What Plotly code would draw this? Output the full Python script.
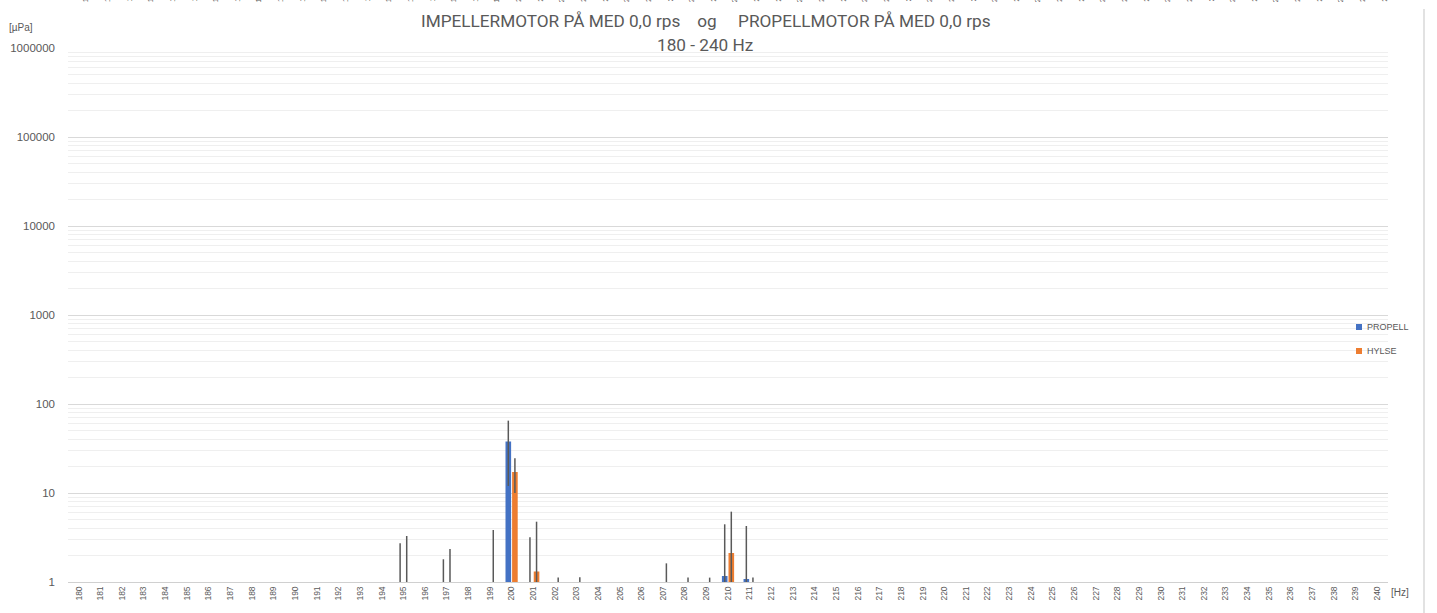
import plotly.graph_objects as go

# ---------------- data ----------------
freqs = list(range(180, 241))
categories = [str(f) for f in freqs]

# PROPELL (blue): frequency, bar value, top / bottom of error bar  [µPa]
propell_hz = [195, 197, 200, 201, 210, 211]
propell_val = [1.0, 1.0, 38.0, 1.0, 1.17, 1.08]
propell_top = [2.72, 1.80, 65.0, 3.18, 4.45, 4.26]
propell_bottom = [0.5, 0.5, 12.0, 0.5, 0.5, 0.5]

# HYLSE (orange)
hylse_hz = [195, 197, 199, 200, 201, 202, 203, 207, 208, 209, 210, 211]
hylse_val = [1.0, 1.0, 1.0, 17.2, 1.31, 1.0, 1.0, 1.0, 1.0, 1.0, 2.12, 1.0]
hylse_top = [3.29, 2.35, 3.84, 24.6, 4.76, 1.12, 1.13, 1.62, 1.12, 1.12, 6.17, 1.12]
hylse_bottom = [0.5, 0.5, 0.5, 10.0, 0.5, 0.5, 0.5, 0.5, 0.5, 0.5, 0.5, 0.5]

y_tickvals = [1, 10, 100, 1000, 10000, 100000, 1000000]
y_ticktext = ["1", "10", "100", "1000", "10000", "100000", "1000000"]

title_line1 = "IMPELLERMOTOR PÅ MED 0,0 rps\u00a0\u00a0\u00a0\u00a0og\u00a0\u00a0\u00a0\u00a0\u00a0PROPELLMOTOR PÅ MED 0,0 rps"
title_line2 = "180 - 240 Hz"

BLUE = "#4472C4"
ORANGE = "#ED7D31"
GREY = "#595959"

# ---------------- layout geometry ----------------
W, H = 1437, 613
L, R, T, B = 68, 49, 48, 31
PW, PH = W - L - R, H - T - B


def px2x(px):
    return (px - L) / PW


def px2y(py):
    return (H - B - py) / PH


fig = go.Figure()


def add_series(name, hz, val, top, bottom, color):
    plus = [t - v for t, v in zip(top, val)]
    minus = [v - b for v, b in zip(val, bottom)]
    fig.add_trace(go.Bar(
        name=name,
        x=[str(h) for h in hz],
        y=val,
        marker=dict(color=color, line=dict(width=0)),
        error_y=dict(type="data", symmetric=False, array=plus, arrayminus=minus,
                     color=GREY, thickness=1.5, width=0),
        showlegend=False,
    ))


add_series("PROPELL", propell_hz, propell_val, propell_top, propell_bottom, BLUE)
add_series("HYLSE", hylse_hz, hylse_val, hylse_top, hylse_bottom, ORANGE)

font_main = "Roboto, Liberation Sans, sans-serif"
font_ticks = "Liberation Sans, Arial, sans-serif"

annotations = [
    dict(text=title_line1, x=px2x(706), y=px2y(21), xref="paper", yref="paper",
         xanchor="center", yanchor="middle", showarrow=False,
         font=dict(family=font_main, size=17.2, color=GREY)),
    dict(text=title_line2, x=px2x(705), y=px2y(45), xref="paper", yref="paper",
         xanchor="center", yanchor="middle", showarrow=False,
         font=dict(family=font_main, size=17.2, color=GREY)),
    dict(text="[µPa]", x=px2x(7), y=px2y(27), xref="paper", yref="paper",
         xanchor="left", yanchor="middle", showarrow=False,
         font=dict(family=font_ticks, size=10, color=GREY)),
    dict(text="[Hz]", x=px2x(1389), y=px2y(592), xref="paper", yref="paper",
         xanchor="left", yanchor="middle", showarrow=False,
         font=dict(family=font_ticks, size=10, color=GREY)),
    # manual legend labels
    dict(text="PROPELL", x=px2x(1365), y=px2y(327), xref="paper", yref="paper",
         xanchor="left", yanchor="middle", showarrow=False,
         font=dict(family=font_ticks, size=9, color=GREY)),
    dict(text="HYLSE", x=px2x(1365), y=px2y(351), xref="paper", yref="paper",
         xanchor="left", yanchor="middle", showarrow=False,
         font=dict(family=font_ticks, size=9, color=GREY)),
]

# cut-off labels of a neighbouring chart visible at the very top edge
for i, c in enumerate(categories):
    annotations.append(dict(text=c, x=i + 0.3, y=px2y(4), xref="x", yref="paper",
                            xanchor="center", yanchor="bottom", textangle=-90,
                            showarrow=False,
                            font=dict(family=font_ticks, size=8, color=GREY)))

shapes = [
    dict(type="rect", xref="paper", yref="paper",
         x0=px2x(1356), x1=px2x(1362), y0=px2y(324), y1=px2y(330),
         fillcolor=BLUE, line=dict(width=0)),
    dict(type="rect", xref="paper", yref="paper",
         x0=px2x(1356), x1=px2x(1362), y0=px2y(348), y1=px2y(354),
         fillcolor=ORANGE, line=dict(width=0)),
    dict(type="line", xref="paper", yref="paper",
         x0=px2x(1424), x1=px2x(1424), y0=px2y(9), y1=px2y(H + 20),
         line=dict(color="#d9d9d9", width=1.5)),
]

fig.update_layout(
    width=W, height=H,
    margin=dict(l=L, r=R, t=T, b=B, pad=0, autoexpand=False),
    paper_bgcolor="white", plot_bgcolor="white",
    barmode="group", bargap=0.39, bargroupgap=0.15,
    annotations=annotations, shapes=shapes,
    showlegend=False,
)

fig.update_xaxes(
    type="category", categoryorder="array", categoryarray=categories,
    tickvals=categories, ticktext=categories,
    range=[-0.5, len(categories) - 0.5],
    tickangle=-90, showgrid=False, zeroline=False,
    showline=True, linecolor="#d0d0d0", linewidth=1,
    ticks="", automargin=False,
    tickfont=dict(family=font_ticks, size=8.5, color=GREY),
)

fig.update_yaxes(
    type="log", range=[0, 6],
    tickvals=y_tickvals, ticktext=y_ticktext,
    showgrid=True, gridcolor="#d9d9d9", gridwidth=1,
    minor=dict(dtick="D1", showgrid=True, gridcolor="#efefef", gridwidth=1),
    zeroline=False, showline=False, ticks="", automargin=False,
    ticklabelstandoff=12,
    tickfont=dict(family=font_ticks, size=11.5, color=GREY),
)

fig.write_html("out.html",
               config={"displayModeBar": False},
               post_script="document.body.style.margin='0';document.body.style.overflow='hidden';")
